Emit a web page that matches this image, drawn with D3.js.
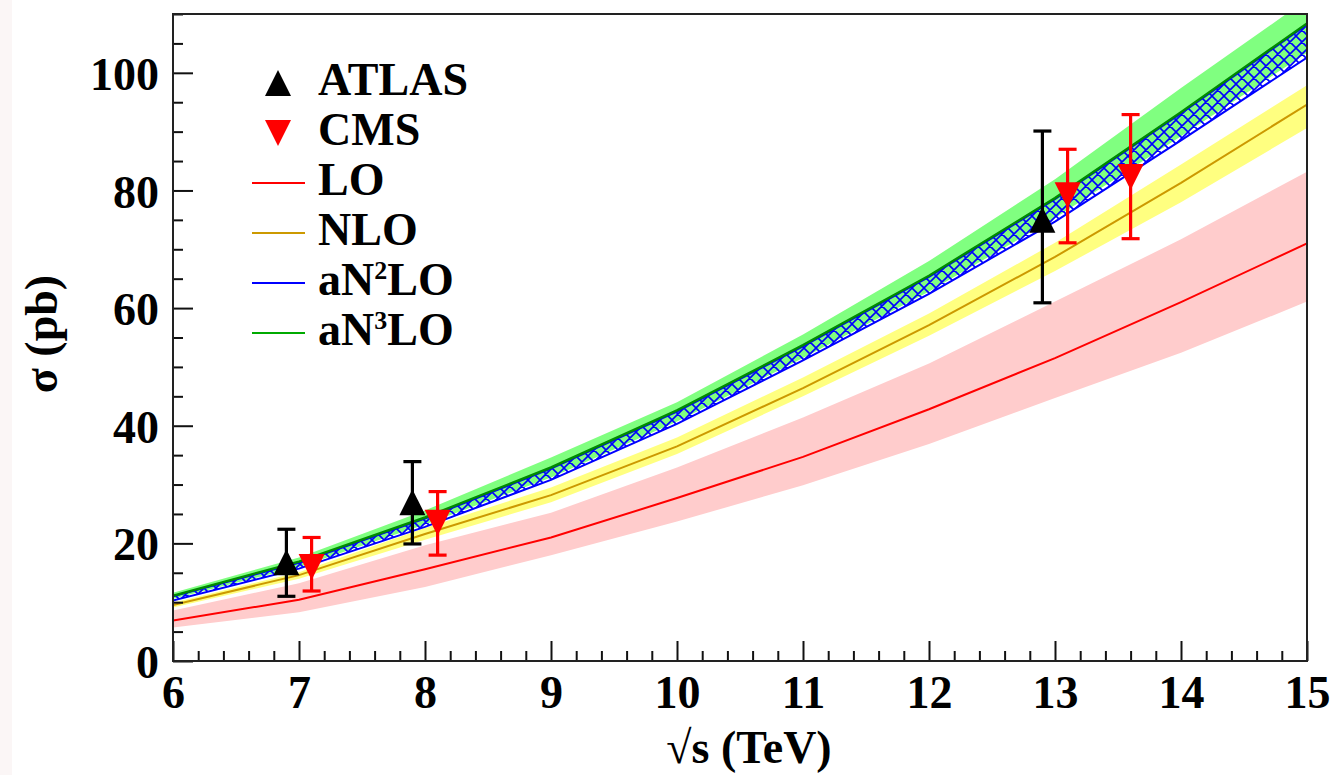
<!DOCTYPE html>
<html>
<head>
<meta charset="utf-8">
<script src="https://cdn.jsdelivr.net/npm/d3@7"></script>
<style>
  html, body { margin: 0; padding: 0; background: #fff; }
  svg { display: block; }
</style>
</head>
<body>
<div id="chart"></div>
<script>
// Energies (TeV) of the theory curves
const energies = [6, 7, 8, 9, 10, 11, 12, 13, 14, 15];

// LO
const loCentral = [6.9, 10.4, 15.6, 21.0, 27.7, 34.7, 42.8, 51.5, 61.0, 71.0];
const loHigh    = [8.6, 13.2, 19.7, 25.2, 32.9, 41.4, 50.6, 61.1, 71.7, 83.2];
const loLow     = [5.7, 8.3, 12.6, 18.0, 23.7, 29.9, 36.9, 44.7, 52.4, 61.1];

// NLO
const nloCentral = [9.5, 14.6, 21.6, 28.2, 36.5, 46.4, 57.1, 68.7, 81.3, 94.6];
const nloHigh    = [9.9, 15.1, 22.6, 29.5, 38.0, 48.2, 59.1, 71.1, 84.4, 97.9];
const nloLow     = [9.1, 14.0, 20.6, 27.0, 35.2, 45.0, 55.3, 66.3, 78.0, 90.6];

// aN2LO
const an2loCentral = [10.7, 16.2, 23.5, 31.8, 41.4, 52.3, 63.9, 76.6, 90.8, 105.4];
const an2loHigh    = [11.0, 16.7, 24.2, 32.7, 42.4, 53.5, 65.3, 78.5, 93.1, 108.2];
const an2loLow     = [10.3, 15.7, 22.8, 30.8, 40.3, 51.1, 62.4, 74.7, 88.5, 102.6];

// aN3LO
const an3loCentral = [11.1, 16.9, 24.4, 32.9, 42.6, 53.7, 65.5, 78.7, 93.3, 108.4];
const an3loHigh    = [11.6, 17.6, 25.6, 34.6, 44.0, 55.5, 68.0, 81.9, 97.4, 112.5];
const an3loLow     = [10.6, 16.0, 23.2, 31.2, 40.7, 51.5, 62.8, 75.3, 89.2, 103.4];

// Measurements
const atlasE     = [6.9, 7.9, 12.9];
const atlasSigma = [16.8, 27.0, 75.0];
const atlasUp    = [22.4, 33.9, 90.1];
const atlasDown  = [11.0, 19.9, 60.9];

const cmsE     = [7.1, 8.1, 13.1, 13.6];
const cmsSigma = [16.0, 23.5, 79.2, 82.3];
const cmsUp    = [21.0, 28.8, 87.0, 92.9];
const cmsDown  = [11.9, 18.0, 71.1, 71.8];

// Axis ticks
const xTicks = [6, 7, 8, 9, 10, 11, 12, 13, 14, 15];
const yTicks = [0, 20, 40, 60, 80, 100];

const width = 1336;
const height = 775;
const margin = { top: 14, right: 29, bottom: 114, left: 173 };
const font = "'Liberation Serif', 'Times New Roman', serif";

const svg = d3.select("#chart")
  .append("svg")
  .attr("width", width)
  .attr("height", height);

svg.append("rect").attr("width", width).attr("height", height).attr("fill", "#fff");
svg.append("rect").attr("width", 12).attr("height", height).attr("fill", "#fbf6f6");

const x = d3.scaleLinear().domain([6, 15]).range([margin.left, width - margin.right]);
const y = d3.scaleLinear().domain([0, 110]).range([height - margin.bottom, margin.top]);

const defs = svg.append("defs");
defs.append("clipPath").attr("id", "plotClip")
  .append("rect")
  .attr("x", x(6)).attr("y", y(110))
  .attr("width", x(15) - x(6)).attr("height", y(0) - y(110));

// cross hatch for the aN2LO band
const hs = 12;
const hatch = defs.append("pattern")
  .attr("id", "hatch")
  .attr("patternUnits", "userSpaceOnUse")
  .attr("width", hs).attr("height", hs);
hatch.append("path")
  .attr("d", `M0,0L${hs},${hs}M-2,${hs - 2}L2,${hs + 2}M${hs - 2},-2L${hs + 2},2` +
             `M0,${hs}L${hs},0M-2,2L2,-2M${hs - 2},${hs + 2}L${hs + 2},${hs - 2}`)
  .attr("stroke", "#0000ff").attr("stroke-width", 1.6);

const toRows = (c, lo, hi) => energies.map((e, i) => ({ e, c: c[i], lo: lo[i], hi: hi[i] }));
const loRows = toRows(loCentral, loLow, loHigh);
const nloRows = toRows(nloCentral, nloLow, nloHigh);
const an2Rows = toRows(an2loCentral, an2loLow, an2loHigh);
const an3Rows = toRows(an3loCentral, an3loLow, an3loHigh);

const area = d3.area().x(d => x(d.e)).y0(d => y(d.lo)).y1(d => y(d.hi));
const line = d3.line().x(d => x(d.e)).y(d => y(d.c));

const plot = svg.append("g").attr("clip-path", "url(#plotClip)");

plot.append("path").datum(loRows).attr("d", area).attr("fill", "#ffcccc");
plot.append("path").datum(nloRows).attr("d", area).attr("fill", "#ffff80");
plot.append("path").datum(an3Rows).attr("d", area).attr("fill", "#80ff80");
plot.append("path").datum(an2Rows).attr("d", area)
  .attr("fill", "url(#hatch)")
  .attr("stroke", "#0000ff").attr("stroke-width", 2);

plot.append("path").datum(loRows).attr("d", line)
  .attr("fill", "none").attr("stroke", "#ff0000").attr("stroke-width", 2);
plot.append("path").datum(nloRows).attr("d", line)
  .attr("fill", "none").attr("stroke", "#cc9900").attr("stroke-width", 2);
plot.append("path").datum(an3Rows).attr("d", line)
  .attr("fill", "none").attr("stroke", "#008a00").attr("stroke-width", 2.5);

// Axes (ticks inside, only left and bottom)
const tickStyle = g => g
  .call(g => g.select(".domain").remove())
  .call(g => g.selectAll(".tick line").attr("stroke", "#111").attr("stroke-width", 2))
  .call(g => g.selectAll("text")
    .attr("fill", "#000")
    .style("font-family", font)
    .style("font-weight", "bold")
    .style("font-size", "46px"));

const minorX = d3.range(60, 151, 2).map(v => v / 10).filter(v => !xTicks.includes(v));
const minorY = d3.range(0, 111, 5).filter(v => !yTicks.includes(v));

svg.append("g")
  .attr("transform", `translate(0,${y(0)})`)
  .call(d3.axisBottom(x).tickValues(minorX).tickSize(-10).tickFormat(""))
  .call(tickStyle);
svg.append("g")
  .attr("transform", `translate(0,${y(0)})`)
  .call(d3.axisBottom(x).tickValues(xTicks).tickSize(-20).tickPadding(14).tickFormat(d3.format("d")))
  .call(tickStyle);

svg.append("g")
  .attr("transform", `translate(${x(6)},0)`)
  .call(d3.axisLeft(y).tickValues(minorY).tickSize(-10).tickFormat(""))
  .call(tickStyle);
svg.append("g")
  .attr("transform", `translate(${x(6)},0)`)
  .call(d3.axisLeft(y).tickValues(yTicks).tickSize(-20).tickPadding(14).tickFormat(d3.format("d")))
  .call(tickStyle)
  .call(g => g.selectAll("text").attr("dy", "0.36em"));

// Frame
svg.append("rect")
  .attr("x", x(6)).attr("y", y(110))
  .attr("width", x(15) - x(6)).attr("height", y(0) - y(110))
  .attr("fill", "none").attr("stroke", "#222").attr("stroke-width", 2);

// Axis titles
svg.append("text")
  .attr("x", 749).attr("y", 763)
  .attr("text-anchor", "middle")
  .style("font-family", font).style("font-weight", "bold").style("font-size", "46px")
  .text("√s (TeV)");

svg.append("text")
  .attr("transform", "translate(57,334) rotate(-90)")
  .attr("text-anchor", "middle")
  .style("font-family", font).style("font-weight", "bold").style("font-size", "46px")
  .text("σ (pb)");

// Markers
const triUp = s => `M0,${-s / 2}L${s / 2},${s / 2}L${-s / 2},${s / 2}Z`;
const triDown = s => `M0,${s / 2}L${s / 2},${-s / 2}L${-s / 2},${-s / 2}Z`;

function drawPoints(es, sig, up, down, color, shape) {
  const g = svg.append("g");
  const rows = es.map((e, i) => ({ e, s: sig[i], u: up[i], d: down[i] }));
  g.selectAll("line.bar").data(rows).join("line")
    .attr("x1", d => x(d.e)).attr("x2", d => x(d.e))
    .attr("y1", d => y(d.u)).attr("y2", d => y(d.d))
    .attr("stroke", color).attr("stroke-width", 3.2);
  g.selectAll("line.capu").data(rows).join("line")
    .attr("x1", d => x(d.e) - 9).attr("x2", d => x(d.e) + 9)
    .attr("y1", d => y(d.u)).attr("y2", d => y(d.u))
    .attr("stroke", color).attr("stroke-width", 3.2);
  g.selectAll("line.capd").data(rows).join("line")
    .attr("x1", d => x(d.e) - 9).attr("x2", d => x(d.e) + 9)
    .attr("y1", d => y(d.d)).attr("y2", d => y(d.d))
    .attr("stroke", color).attr("stroke-width", 3.2);
  g.selectAll("path").data(rows).join("path")
    .attr("transform", d => `translate(${x(d.e)},${y(d.s)})`)
    .attr("d", shape(26))
    .attr("fill", color);
}
drawPoints(atlasE, atlasSigma, atlasUp, atlasDown, "#000", triUp);
drawPoints(cmsE, cmsSigma, cmsUp, cmsDown, "#ff0000", triDown);

// Legend
const legendItems = [
  { kind: "up", color: "#000", parts: [["ATLAS"]] },
  { kind: "down", color: "#ff0000", parts: [["CMS"]] },
  { kind: "line", color: "#ff0000", parts: [["LO"]] },
  { kind: "line", color: "#cc9900", parts: [["NLO"]] },
  { kind: "line", color: "#0000ff", parts: [["aN"], ["2", true], ["LO"]] },
  { kind: "line", color: "#00aa00", parts: [["aN"], ["3", true], ["LO"]] }
];

const legend = svg.append("g");
legendItems.forEach((item, i) => {
  const base = 95 + i * 50;
  const cy = base - 12;
  if (item.kind === "line") {
    legend.append("line")
      .attr("x1", 252).attr("x2", 305).attr("y1", cy).attr("y2", cy)
      .attr("stroke", item.color).attr("stroke-width", 2);
  } else {
    legend.append("path")
      .attr("transform", `translate(278,${cy})`)
      .attr("d", (item.kind === "up" ? triUp : triDown)(26))
      .attr("fill", item.color);
  }
  const t = legend.append("text")
    .attr("x", 318).attr("y", base)
    .style("font-family", font).style("font-weight", "bold").style("font-size", "46px");
  item.parts.forEach(([s, sup]) => {
    if (sup) {
      t.append("tspan").attr("dy", -16).style("font-size", "26px").text(s);
    } else {
      const sp = t.append("tspan").text(s);
      if (t.selectAll("tspan").size() > 1) sp.attr("dy", 16);
    }
  });
});
</script>
</body>
</html>
